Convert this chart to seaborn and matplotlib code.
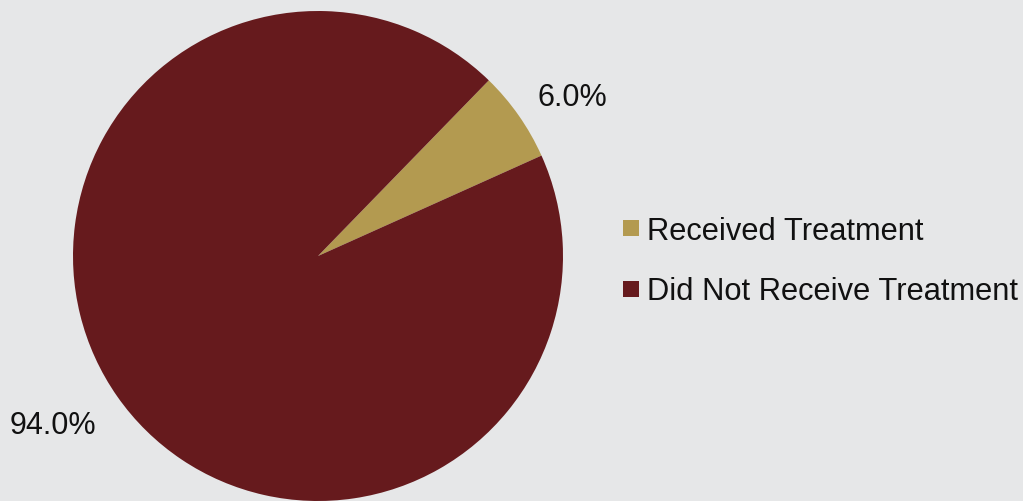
import matplotlib
matplotlib.use('Agg')
import matplotlib.pyplot as plt
from matplotlib.lines import Line2D
import seaborn as sns

labels = ['Received Treatment', 'Did Not Receive Treatment']
shares = [6.0, 94.0]
colors = ['#b39a50', '#661a1d']
bg = '#e6e7e8'

sns.set_theme(style='white')
plt.rcParams['font.family'] = ['Liberation Sans', 'DejaVu Sans']

fig = plt.figure(figsize=(10.23, 5.02), dpi=100, facecolor=bg)
ax = fig.add_axes([73 / 1023, 0.0, 490 / 1023, 490 / 502])
ax.set_facecolor(bg)

wedges, texts, autotexts = ax.pie(
    shares, colors=colors, startangle=24.2, counterclock=True,
    autopct='%.1f%%', pctdistance=1.25, labeldistance=None,
    textprops={'fontsize': 22, 'color': '#111111'},
    wedgeprops={'linewidth': 0})
ax.set_xlim(-1, 1)
ax.set_ylim(-1, 1)
ax.set_aspect('equal')
ax.axis('off')

# nudge labels toward where they sit in the original
autotexts[0].set_position((1.04, 0.65))
autotexts[1].set_position((-1.08, -0.69))

handles = [Line2D([0], [0], marker='s', linestyle='', markersize=12,
                  markerfacecolor=c, markeredgewidth=0) for c in colors]
fig.legend(handles, labels, loc='center left', bbox_to_anchor=(0.609, 0.478),
           frameon=False, fontsize=22.2, handlelength=0.55, handletextpad=0.22,
           labelspacing=1.0, borderpad=0, borderaxespad=0,
           labelcolor='#111111')

fig.savefig('out.png', dpi=100, facecolor=bg)
